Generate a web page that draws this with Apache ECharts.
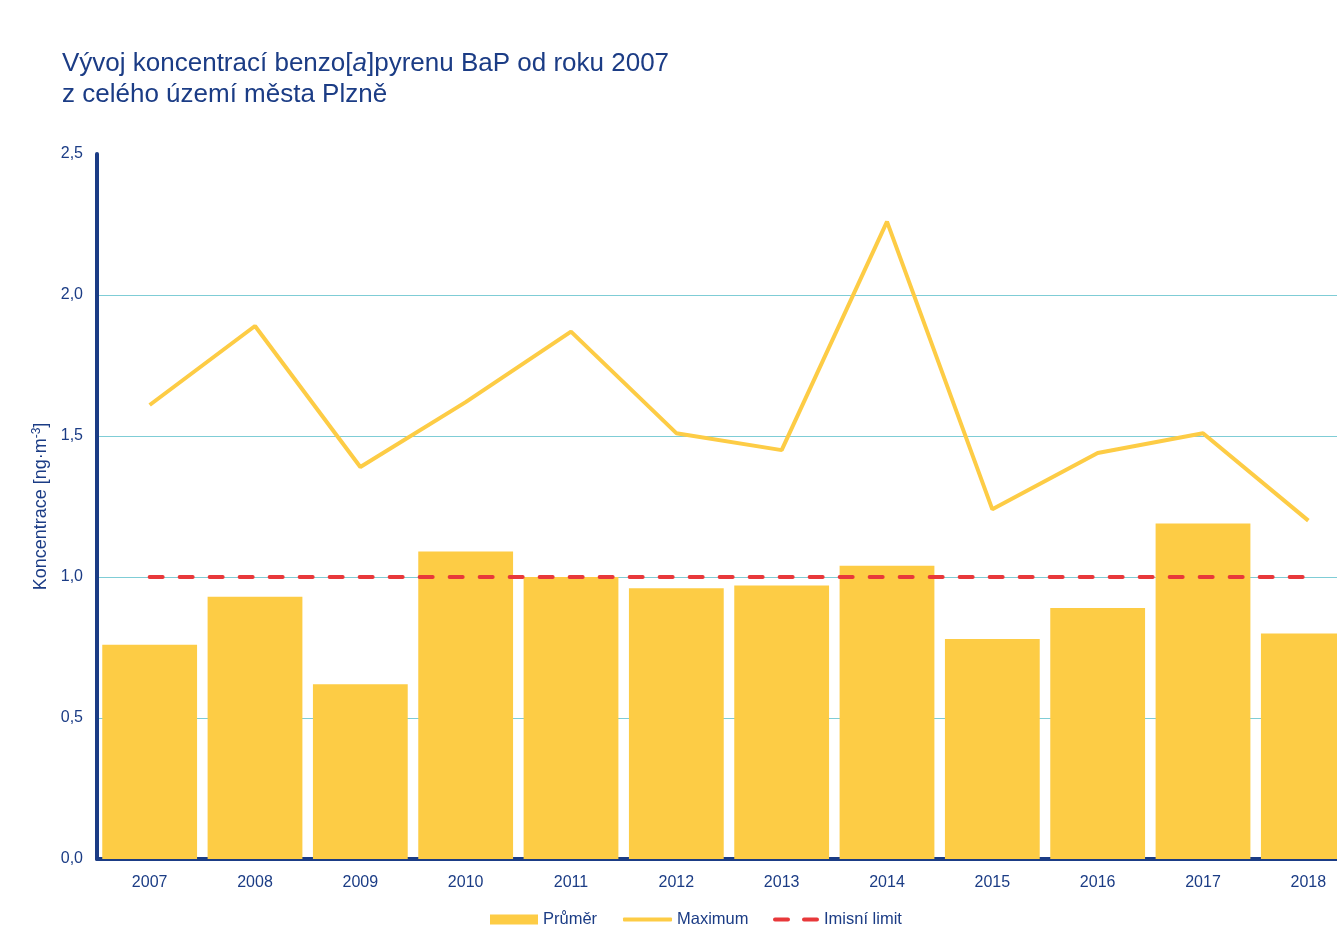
<!DOCTYPE html>
<html>
<head>
<meta charset="utf-8">
<script src="https://cdn.jsdelivr.net/npm/echarts@6/dist/echarts.min.js"></script>
<style>
  html, body { margin:0; padding:0; background:#fff; overflow:hidden; }
  /* plot runs past the right edge in the original, so the chart is wider than the window */
  #chart { width:1361px; height:938px; }
</style>
</head>
<body>
<div id="chart"></div>
<script>
/* BaP concentrations in Plzeň since 2007 — mean bars, max line, limit */
var YEARS   = ['2007','2008','2009','2010','2011','2012','2013','2014','2015','2016','2017','2018'];
var MEAN    = [0.76, 0.93, 0.62, 1.09, 1.00, 0.96, 0.97, 1.04, 0.78, 0.89, 1.19, 0.80];
var MAXIMUM = [1.61, 1.89, 1.39, 1.62, 1.87, 1.51, 1.45, 2.26, 1.24, 1.44, 1.51, 1.20];
var LIMIT   = [1, 1, 1, 1, 1, 1, 1, 1, 1, 1, 1, 1];

var NAVY = '#1b3c85', GOLD = '#fdcc45', RED = '#e8383a', GRID = '#7fcdd6';
var FONT = 'Liberation Sans, Arial, sans-serif';

var chart = echarts.init(document.getElementById('chart'), null, {renderer:'canvas'});

var legendText = { color:NAVY, fontSize:16.5, fontFamily:FONT };

chart.setOption({
  backgroundColor:'#fff',
  animation:false,
  textStyle:{ fontFamily:FONT },
  title:{
    text:'Vývoj koncentrací benzo[{i|a}]pyrenu BaP od roku 2007\nz celého území města Plzně',
    left:57, top:43,
    textStyle:{
      color:NAVY, fontSize:26, fontWeight:'normal', lineHeight:31, fontFamily:FONT,
      rich:{ i:{ color:NAVY, fontSize:26, fontStyle:'italic', fontFamily:FONT } }
    }
  },
  // one legend per item so each key can have its own size
  legend:[
    { left:485, top:906, itemWidth:48, itemHeight:10, textStyle:legendText,
      data:[{ name:'Průměr', icon:'rect' }] },
    { left:618, top:906, itemWidth:49, itemHeight:4, textStyle:legendText,
      data:[{ name:'Maximum', icon:'roundRect' }] },
    { left:768, top:906, itemWidth:46, itemHeight:4, textStyle:legendText,
      data:[{ name:'Imisní limit',
        icon:'path://M2,0 L15,0 Q17,0 17,2 Q17,4 15,4 L2,4 Q0,4 0,2 Q0,0 2,0 Z M31,0 L44,0 Q46,0 46,2 Q46,4 44,4 L31,4 Q29,4 29,2 Q29,0 31,0 Z' }] }
  ],
  grid:{ left:97, top:154, right:0, bottom:79, containLabel:false },
  xAxis:{
    type:'category', data:YEARS,
    axisLine:{ lineStyle:{ color:NAVY, width:4 } },
    axisTick:{ show:false },
    axisLabel:{ color:NAVY, fontSize:16, margin:16 }
  },
  yAxis:{
    type:'value', min:0, max:2.5, interval:0.5,
    name:'Koncentrace [ng·m{s|-3}]', nameLocation:'middle', nameGap:44, nameRotate:90,
    nameTextStyle:{ color:NAVY, fontSize:18, fontFamily:FONT,
      rich:{ s:{ color:NAVY, fontSize:12, fontFamily:FONT, verticalAlign:'bottom', padding:[0,0,9,0] } } },
    axisLine:{ show:true, lineStyle:{ color:NAVY, width:4 } },
    axisTick:{ show:false },
    // no rule at the top tick
    splitLine:{ lineStyle:{ color:[GRID, GRID, GRID, GRID, GRID, 'rgba(0,0,0,0)'], width:1 } },
    axisLabel:{ color:NAVY, fontSize:16, margin:14,
      formatter:function(v){ return v.toFixed(1).replace('.', ','); } }
  },
  series:[
    { name:'Průměr', type:'bar', data:MEAN, barCategoryGap:'10%',
      itemStyle:{ color:GOLD }, z:2 },
    { name:'Maximum', type:'line', data:MAXIMUM, symbol:'none',
      lineStyle:{ color:GOLD, width:4 }, itemStyle:{ color:GOLD }, z:3 },
    { name:'Imisní limit', type:'line', data:LIMIT, symbol:'none',
      lineStyle:{ color:RED, width:4, type:[13,17], cap:'round' }, itemStyle:{ color:RED }, z:4 }
  ]
});
</script>
</body>
</html>
